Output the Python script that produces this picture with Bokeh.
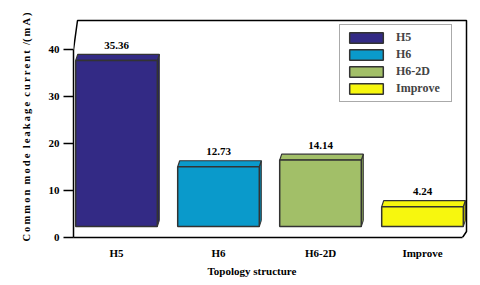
import math
from bokeh.plotting import figure
from bokeh.models import Range1d, FixedTicker, Legend, LegendItem, Title, ColumnDataSource
from bokeh.core.properties import value
from bokeh.embed import file_html
from bokeh.resources import INLINE

categories = ["H5", "H6", "H6-2D", "Improve"]
values = [35.36, 12.73, 14.14, 4.24]
value_labels = ["35.36", "12.73", "14.14", "4.24"]
colors = ["#332A85", "#0A9ACB", "#A2BF68", "#F7F70E"]
side_colors = ["#2A2360", "#087FA6", "#86A055", "#C8C80A"]
y_ticks = [0, 10, 20, 30, 40]

FONT = "Liberation Serif"
PX_X = 102.0   # pixels per category unit
PX_Y = 4.72    # pixels per mA
X0 = -43 / PX_X
X1 = 354 / PX_X
Y1 = 222 / PX_Y
OFF = 11 / PX_Y      # floor depth offset
TDY = 6 / PX_Y       # top face depth
TDX = 2 / PX_X
BW = 0.4

p = figure(width=472, height=277, output_backend="svg", toolbar_location=None,
           x_range=Range1d(X0, X1), y_range=Range1d(0, Y1),
           min_border_left=73, min_border_right=2, min_border_top=16, min_border_bottom=39)
p.grid.visible = False
p.outline_line_color = None
p.background_fill_color = "white"
p.border_fill_color = "white"

xs = list(range(len(categories)))
lefts = [i - BW for i in xs]
rights = [i + BW for i in xs]
bottoms = [OFF] * len(xs)
tops = [v + OFF for v in values]

# side faces
p.patches(xs=[[r, r + TDX, r + TDX, r] for r in rights],
          ys=[[b, b + TDY, t + TDY, t] for b, t in zip(bottoms, tops)],
          fill_color=side_colors, line_color="#333333", line_width=1)
# top faces
p.patches(xs=[[l, r, r + TDX, l + TDX] for l, r in zip(lefts, rights)],
          ys=[[t, t, t + TDY, t + TDY] for t in tops],
          fill_color=colors, line_color="#333333", line_width=1.2)
src = ColumnDataSource(dict(left=lefts, right=rights, bottom=bottoms, top=tops,
                            color=colors, cat=categories))
bars = p.quad(left="left", right="right", bottom="bottom", top="top", source=src,
              fill_color="color", line_color="#333333", line_width=1.5)

# value labels
p.text(x=xs, y=[t + TDY for t in tops], text=value_labels, text_align="center",
       text_baseline="middle", y_offset=-9, text_font=value(FONT),
       text_font_style="bold", text_font_size="11px", text_color="black")

# box outline (pseudo 3D walls)
xl = X0
xl2 = X0 + 4 / PX_X
xr = 350 / PX_X
xr2 = 346 / PX_X
ytop = 218 / PX_Y
p.line(x=[xl, xl2, xr, xr, xr2], y=[40, ytop, ytop, 6 / PX_Y, 0],
       line_color="black", line_width=1.5)

# axes
ya = p.yaxis[0]
ya.ticker = FixedTicker(ticks=y_ticks)
ya.bounds = (0, 40)
ya.major_tick_out = 10
ya.major_tick_in = 0
ya.minor_tick_line_color = None
ya.major_label_standoff = 4
ya.axis_line_width = 1.5
ya.major_tick_line_width = 1.5
ya.major_label_text_font = FONT
ya.major_label_text_font_style = "bold"
ya.major_label_text_font_size = "11px"
ya.major_label_text_color = "black"
ylab = "\u2009".join("Common") + "\u2002" + "\u2009".join("mode") + "\u2002" + \
       "\u2009".join("leakage") + "\u2002" + "\u2009".join("current") + "\u2002/(\u2009m\u2009A\u2009)"
ya.axis_label = ylab
ya.axis_label_standoff = 14
ya.axis_label_text_font = FONT
ya.axis_label_text_font_style = "bold"
ya.axis_label_text_font_size = "10.5px"
ya.axis_label_text_color = "black"

xa = p.xaxis[0]
xa.ticker = FixedTicker(ticks=xs)
xa.major_label_overrides = {i: c for i, c in zip(xs, categories)}
xa.bounds = (X0, xr2)
xa.major_tick_out = 0
xa.major_tick_in = 0
xa.minor_tick_line_color = None
xa.major_label_standoff = 9
xa.axis_line_width = 1.5
xa.major_label_text_font = FONT
xa.major_label_text_font_style = "bold"
xa.major_label_text_font_size = "11px"
xa.major_label_text_color = "black"

p.add_layout(Title(text="Topology structure", align="left", offset=134, standoff=2,
                   text_font=FONT, text_font_style="bold", text_font_size="11px",
                   text_color="black"), "below")

legend = Legend(items=[LegendItem(label=c, renderers=[bars], index=i) for i, c in enumerate(categories)],
                location=(266, 135), glyph_width=42, glyph_height=13, label_height=12,
                label_width=50, label_standoff=9, spacing=2, padding=5,
                label_text_font=FONT, label_text_font_style="bold", label_text_font_size="12px",
                border_line_color="#555555", border_line_width=1.5, background_fill_alpha=1)
p.add_layout(legend)

open("out.html", "w").write(file_html(p, INLINE))
